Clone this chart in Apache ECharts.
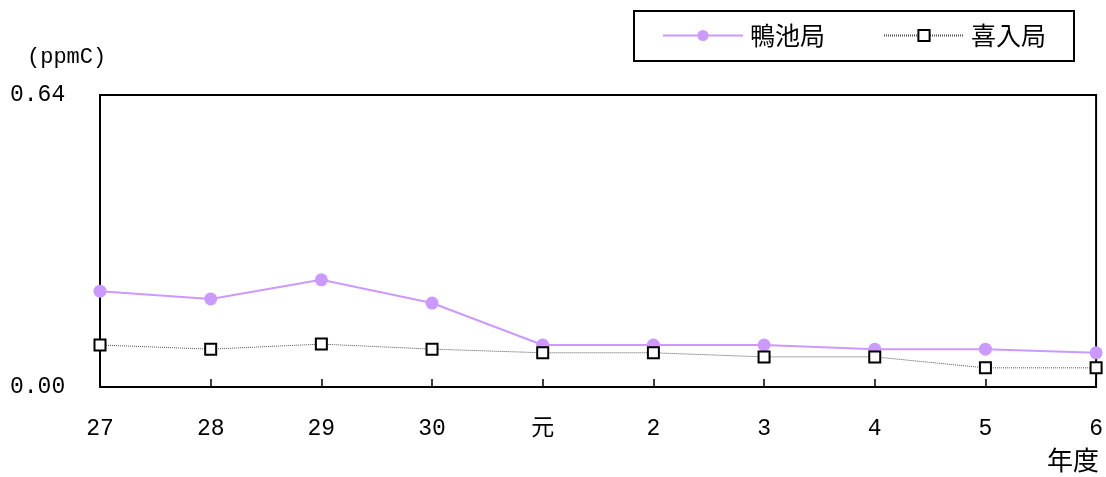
<!DOCTYPE html>
<html><head><meta charset="utf-8">
<script src="https://cdn.jsdelivr.net/npm/echarts@6/dist/echarts.min.js"></script>
<style>html,body{margin:0;padding:0;background:#fff}#c{width:1106px;height:477px}</style>
</head><body><div id="c"></div>
<script>
const categories = ['27','28','29','30','元','2','3','4','5','6'];
const kamoike = [0.21, 0.193, 0.235, 0.184, 0.092, 0.092, 0.092, 0.083, 0.083, 0.075];
const kiire = [0.092, 0.083, 0.094, 0.083, 0.075, 0.075, 0.066, 0.066, 0.042, 0.042];
const yTicks = [0, 0.64];
const FONT = '"Liberation Mono","Noto Sans CJK JP",monospace';
const chart = echarts.init(document.getElementById('c'));
chart.setOption({
  animation: false,
  textStyle: {fontFamily: FONT, color: '#000'},
  legend: {
    left: 634, top: 11, orient: 'horizontal',
    padding: [12, 28, 13, 28], itemGap: 58, itemWidth: 80, itemHeight: 14,
    borderColor: '#000', borderWidth: 2, backgroundColor: '#fff',
    textStyle: {fontSize: 25, fontFamily: '"Noto Sans CJK JP",sans-serif', color: '#000', padding: [0,0,0,2]},
    data: ['鴨池局', '喜入局']
  },
  grid: {left: 100, right: 4, top: 95, bottom: 90, show: true, borderColor: '#000', borderWidth: 2, backgroundColor: 'transparent'},
  graphic: [
    {type: 'text', left: 27, top: 46, style: {text: '(ppmC)', font: '22px ' + FONT, fill: '#000'}},
    {type: 'text', left: 1047, top: 447, style: {text: '年度', font: '26px "Noto Sans CJK JP",sans-serif', fill: '#000'}}
  ],
  xAxis: {
    type: 'category', data: categories, boundaryGap: false,
    axisLine: {lineStyle: {color: '#000', width: 2}},
    axisTick: {inside: true, length: 8, lineStyle: {color: '#000', width: 1.5}},
    axisLabel: {fontSize: 23, color: '#000', margin: 30, fontFamily: FONT}
  },
  yAxis: {
    type: 'value', min: yTicks[0], max: yTicks[1], interval: 0.64,
    splitLine: {show: false},
    axisLine: {show: true, lineStyle: {color: '#000', width: 2}},
    axisTick: {show: false},
    axisLabel: {fontSize: 23, color: '#000', align: 'left', margin: 90, fontFamily: FONT,
      formatter: v => v.toFixed(2)}
  },
  series: [
    {name: '鴨池局', type: 'line', data: kamoike, symbol: 'circle', symbolSize: 13,
      lineStyle: {color: '#CC99FF', width: 2}, itemStyle: {color: '#CC99FF'}},
    {name: '喜入局', type: 'line', data: kiire, symbol: 'rect', symbolSize: 11,
      lineStyle: {color: '#555', width: 1, type: [1, 1]},
      itemStyle: {color: '#fff', borderColor: '#000', borderWidth: 2}}
  ]
});
</script></body></html>
